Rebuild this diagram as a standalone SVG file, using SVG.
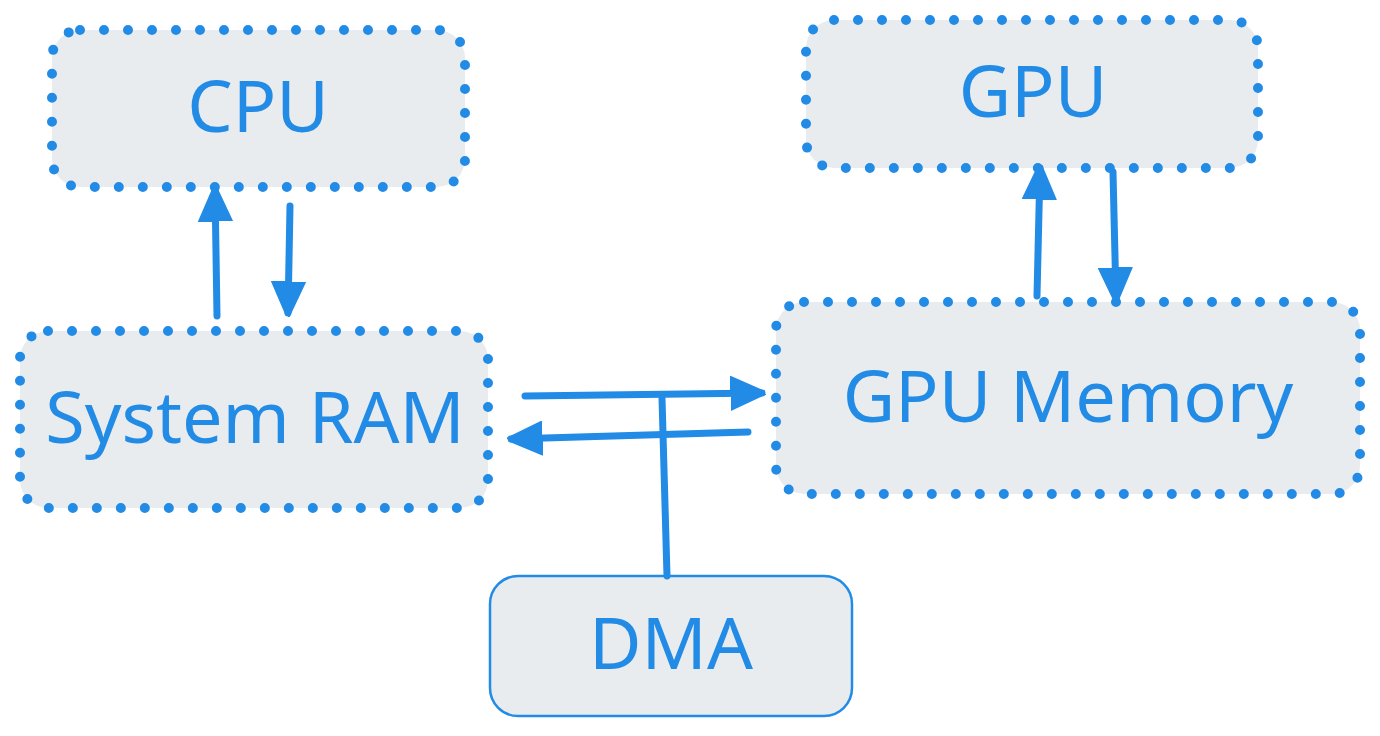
<svg xmlns="http://www.w3.org/2000/svg" width="1380" height="736" viewBox="0 0 1380 736">
<defs>
<style>
.box{fill:#e9ecef;stroke:#228be6;stroke-width:10;stroke-dasharray:0 24;stroke-linecap:round}
.solid{fill:#e9ecef;stroke:#228be6;stroke-width:2.5}
.lbl{font-family:"Noto Sans","Open Sans",sans-serif;fill:#228be6;text-anchor:middle}
.conn{stroke:#228be6;stroke-width:7;stroke-linecap:round;fill:none}
</style>
<marker id="ah" viewBox="0 0 10 10" refX="9" refY="5" markerWidth="5" markerHeight="5" markerUnits="strokeWidth" orient="auto">
<path d="M0,0.5 L10,5 L0,9.5 Z" fill="#228be6" stroke="#228be6" stroke-width="1" stroke-linejoin="round"/>
</marker>
</defs>
<rect width="1380" height="736" fill="#ffffff"/>
<g id="cpu">
<rect class="box" x="52" y="30" width="413" height="157" rx="28"/>
<text class="lbl" x="258" y="132" font-size="72">CPU</text>
</g>
<g id="gpu">
<rect class="box" x="806" y="20" width="452" height="148" rx="28"/>
<text class="lbl" x="1033" y="117" font-size="72">GPU</text>
</g>
<g id="sysram">
<rect class="box" x="20" y="331" width="468" height="177" rx="28"/>
<text class="lbl" x="255" y="443" font-size="72">System RAM</text>
</g>
<g id="gpumem">
<rect class="box" x="776" y="302" width="584" height="192" rx="28"/>
<text class="lbl" x="1068" y="422" font-size="72">GPU Memory</text>
</g>
<g id="dma">
<rect class="solid" x="490" y="576" width="362" height="140" rx="28"/>
<text class="lbl" x="671" y="669" font-size="72">DMA</text>
</g>
<g id="connectors">
<line class="conn" x1="217" y1="316" x2="215" y2="190" marker-end="url(#ah)"/>
<line class="conn" x1="290" y1="206" x2="288" y2="313" marker-end="url(#ah)"/>
<line class="conn" x1="1037" y1="296" x2="1040" y2="168" marker-end="url(#ah)"/>
<line class="conn" x1="1113" y1="172" x2="1116" y2="299" marker-end="url(#ah)"/>
<line class="conn" x1="525" y1="396" x2="762" y2="393" marker-end="url(#ah)"/>
<line class="conn" x1="748" y1="432" x2="511" y2="439" marker-end="url(#ah)"/>
<line class="conn" x1="667" y1="576" x2="662" y2="398"/>
</g>
</svg>
